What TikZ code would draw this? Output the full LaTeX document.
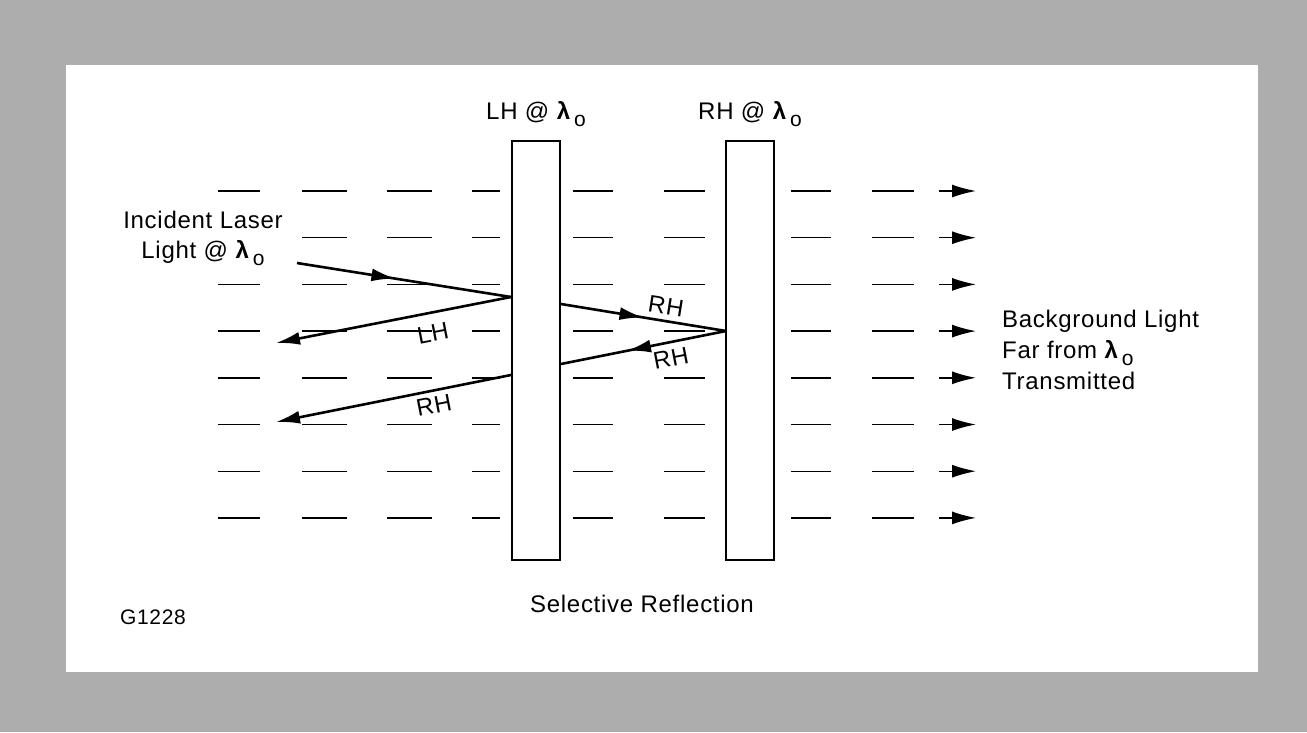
\documentclass[tikz,border=0pt]{standalone}
\usepackage{fontspec}
\setmainfont{Liberation Sans}[LetterSpace=3.0]
\usetikzlibrary{arrows.meta,decorations.markings,calc}
\definecolor{bordergray}{gray}{0.68}
\newcommand{\lamo}{{\bfseries λ}\,\raisebox{-0.3em}{\fontsize{21}{21}\selectfont o}}
\begin{document}
\begin{tikzpicture}[x=1pt,y=-1pt,
  txt/.style={font=\fontsize{24}{30}\selectfont, inner sep=0pt},
  plate/.style={draw, line width=2pt, minimum width=48pt, minimum height=419pt, inner sep=0pt},
  dashln/.style={line width=1.4pt},
  ray/.style={line width=2.6pt},
  tip/.style={-{Latex[length=24pt,width=13pt]}},
  midarrow/.style={postaction={decorate}, decoration={markings, mark=at position #1 with {\arrow{Latex[length=24pt,width=13pt]}}}}
]
\useasboundingbox (0,0) rectangle (1307,732);
\fill[bordergray] (0,0) rectangle (1307,732);
\fill[white] (66,65) rectangle (1258,672);

% plates
\node[plate] (pl1) at (536,350.5) {};
\node[plate] (pl2) at (750,350.5) {};

% dashes
\foreach \i in {0,...,7}{
  \pgfmathsetmacro\yy{191+46.7*\i}
  \ifnum\i=1\else
    \draw[dashln] (218,\yy) -- (260,\yy);
  \fi
  \foreach \xa/\xb in {302/347,387/432,472/500,573/613,664/705,791/831,872/914}{
    \draw[dashln] (\xa,\yy) -- (\xb,\yy);
  }
  \draw[dashln,-{Latex[length=24pt,width=13pt]}] (939,\yy) -- (976,\yy);
}

% ray points
\coordinate (inc) at (297,263);
\coordinate (p1hit) at (511,297);
\coordinate (lhEnd) at (276,343);
\coordinate (p1rh) at (511,375);
\coordinate (rhEnd) at (276,422);
\coordinate (p1out) at (561,304);
\coordinate (p2hit) at (726,331);
\coordinate (p1back) at (561,364);

\draw[ray, midarrow=0.46] (inc) -- (p1hit);
\draw[ray, tip] (p1hit) -- (lhEnd);
\draw[ray, tip] (p1rh) -- (rhEnd);
\draw[ray, midarrow=0.5] (p1out) -- (p2hit);
\draw[ray, midarrow=0.6] (p2hit) -- (p1back);

% ray labels
\node[txt, rotate=11] (lhlab) at (433,333) {LH};
\node[txt, rotate=11] (rhlab1) at (434,405) {RH};
\node[txt, rotate=-9] (rhlab2) at (666,306) {RH};
\node[txt, rotate=11] (rhlab3) at (671,358) {RH};

% texts
\node[txt, anchor=base] (lhtitle) at (536,119) {LH @ \lamo};
\node[txt, anchor=base] (rhtitle) at (750,119) {RH @ \lamo};
\node[txt, anchor=base] (inc1) at (203,228) {Incident Laser};
\node[txt, anchor=base] (inc2) at (203,258) {Light @ \lamo};
\node[txt, anchor=base west] (bg1) at (1002,327) {Background Light};
\node[txt, anchor=base west] (bg2) at (1002,358) {Far from \lamo};
\node[txt, anchor=base west] (bg3) at (1002,389) {Transmitted};
\node[txt, anchor=base] (sel) at (642,612) {Selective Reflection};
\node[txt, anchor=base west, font=\fontsize{21}{25}\selectfont] (gid) at (120,624) {G1228};
\end{tikzpicture}
\end{document}
